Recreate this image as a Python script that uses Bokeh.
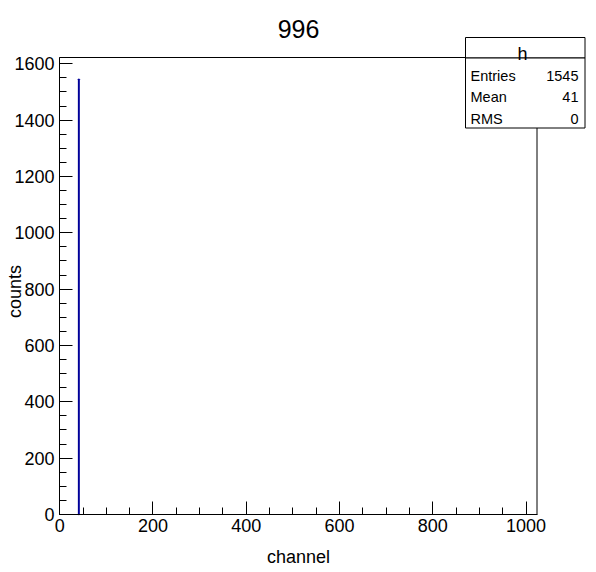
import math
from bokeh.plotting import figure
from bokeh.models import (Range1d, FixedTicker, LinearAxis, Label, BoxAnnotation)
from bokeh.embed import file_html
from bokeh.resources import INLINE

# ---- data ----
title_text = "996"
hist_name = "h"
bin_centers = [41]
bin_counts = [1545]
bin_width = 1
x_axis_min, x_axis_max = -0.5, 1023.5
x_major_ticks = [0, 200, 400, 600, 800, 1000]
x_minor_ticks = [50, 100, 150, 250, 300, 350, 450, 500, 550, 650, 700, 750,
                 850, 900, 950]
y_major_ticks = [0, 200, 400, 600, 800, 1000, 1200, 1400, 1600]
y_minor_ticks = [50, 100, 150, 250, 300, 350, 450, 500, 550, 650, 700, 750,
                 850, 900, 950, 1050, 1100, 1150, 1250, 1300, 1350, 1450, 1500, 1550]
stat_names = ["Entries", "Mean", "RMS"]
stat_values = ["1545", "41", "0"]
x_label = "channel"
y_label = "counts"
line_color = "#000099"

FONT = "Liberation Sans"

# ---- layout (pixels of the 596x572 canvas) ----
W, H = 596, 572
FR_L, FR_R, FR_T, FR_B = 59, 536.5, 57, 514

y_axis_max = max(bin_counts) * 1.05
kx = (FR_R - FR_L) / (x_axis_max - x_axis_min)
ky = (FR_B - FR_T) / y_axis_max
xs = x_axis_min - FR_L / kx
xe = xs + W / kx
ys = 0 - (H - FR_B) / ky
ye = ys + H / ky

p = figure(width=W, height=H, output_backend="svg", toolbar_location=None,
           x_range=Range1d(xs, xe), y_range=Range1d(ys, ye),
           x_axis_location=None, y_axis_location=None)
p.title.visible = False
p.min_border_left = 0
p.min_border_right = 0
p.min_border_top = 0
p.min_border_bottom = 0
p.outline_line_color = None
p.background_fill_color = "white"
p.border_fill_color = "white"
p.grid.visible = False


def style_axis(ax, major, minor, standoff):
    ax.ticker = FixedTicker(ticks=major, minor_ticks=minor)
    ax.major_tick_in = 13
    ax.major_tick_out = 0
    ax.minor_tick_in = 7
    ax.minor_tick_out = 0
    ax.axis_line_color = "black"
    ax.axis_line_width = 1
    ax.major_tick_line_color = "black"
    ax.minor_tick_line_color = "black"
    ax.major_label_text_font = FONT
    ax.major_label_text_font_size = "18px"
    ax.major_label_text_color = "black"
    ax.major_label_standoff = standoff


xaxis = LinearAxis(fixed_location=0, bounds=(x_axis_min, x_axis_max))
style_axis(xaxis, x_major_ticks, x_minor_ticks, 4)
p.add_layout(xaxis, "below")
yaxis = LinearAxis(fixed_location=x_axis_min, bounds=(0, y_axis_max))
style_axis(yaxis, y_major_ticks, y_minor_ticks, 5)
p.add_layout(yaxis, "left")

# frame outline
p.add_layout(BoxAnnotation(left=x_axis_min, right=x_axis_max, bottom=0, top=y_axis_max,
                           fill_alpha=0, line_color="black", line_width=1, line_alpha=1))

# histogram bin outline
lefts = [c - bin_width / 2 for c in bin_centers]
rights = [c + bin_width / 2 for c in bin_centers]
p.quad(left=lefts, right=rights, bottom=[0] * len(bin_counts), top=bin_counts,
       fill_color=None, line_color=line_color, line_width=1.5)


def sy(y_from_top):
    return H - y_from_top


# titles (screen units: from frame = canvas bottom-left)
p.add_layout(Label(x=298, y=sy(28), x_units="screen", y_units="screen", text=title_text,
                   text_font=FONT, text_font_size="25px", text_align="center",
                   text_baseline="alphabetic", text_color="black"))
p.add_layout(Label(x=298, y=sy(556), x_units="screen", y_units="screen", text=x_label,
                   text_font=FONT, text_font_size="18px", text_align="center",
                   text_baseline="alphabetic", text_color="black"))
p.add_layout(Label(x=14.5, y=sy(291), x_units="screen", y_units="screen", text=y_label,
                   text_font=FONT, text_font_size="18px", text_align="center",
                   text_baseline="middle", text_color="black", angle=math.pi / 2))

# stats box
BX_L, BX_R, BX_T, BX_SEP, BX_B = 465, 584.5, 37, 57.5, 127.5
for top, bot in ((BX_T, BX_SEP), (BX_SEP, BX_B)):
    p.add_layout(BoxAnnotation(left=BX_L, right=BX_R, top=sy(top), bottom=sy(bot),
                               left_units="screen", right_units="screen",
                               top_units="screen", bottom_units="screen",
                               fill_color="white", fill_alpha=1.0,
                               line_color="black", line_width=1, line_alpha=1.0,
                               level="overlay"))

p.add_layout(Label(x=522, y=sy(53), x_units="screen", y_units="screen", text=hist_name,
                   text_font=FONT, text_font_size="18px", text_align="center",
                   text_baseline="alphabetic", text_color="black", level="overlay"))
row_base = [75, 96.7, 118.3]
for name, val, yy in zip(stat_names, stat_values, row_base):
    p.add_layout(Label(x=470, y=sy(yy), x_units="screen", y_units="screen", text=name,
                       text_font=FONT, text_font_size="14.5px", text_align="left",
                       text_baseline="alphabetic", text_color="black", level="overlay"))
    p.add_layout(Label(x=578, y=sy(yy), x_units="screen", y_units="screen", text=val,
                       text_font=FONT, text_font_size="14.5px", text_align="right",
                       text_baseline="alphabetic", text_color="black", level="overlay"))

open("out.html", "w").write(file_html(p, INLINE))
